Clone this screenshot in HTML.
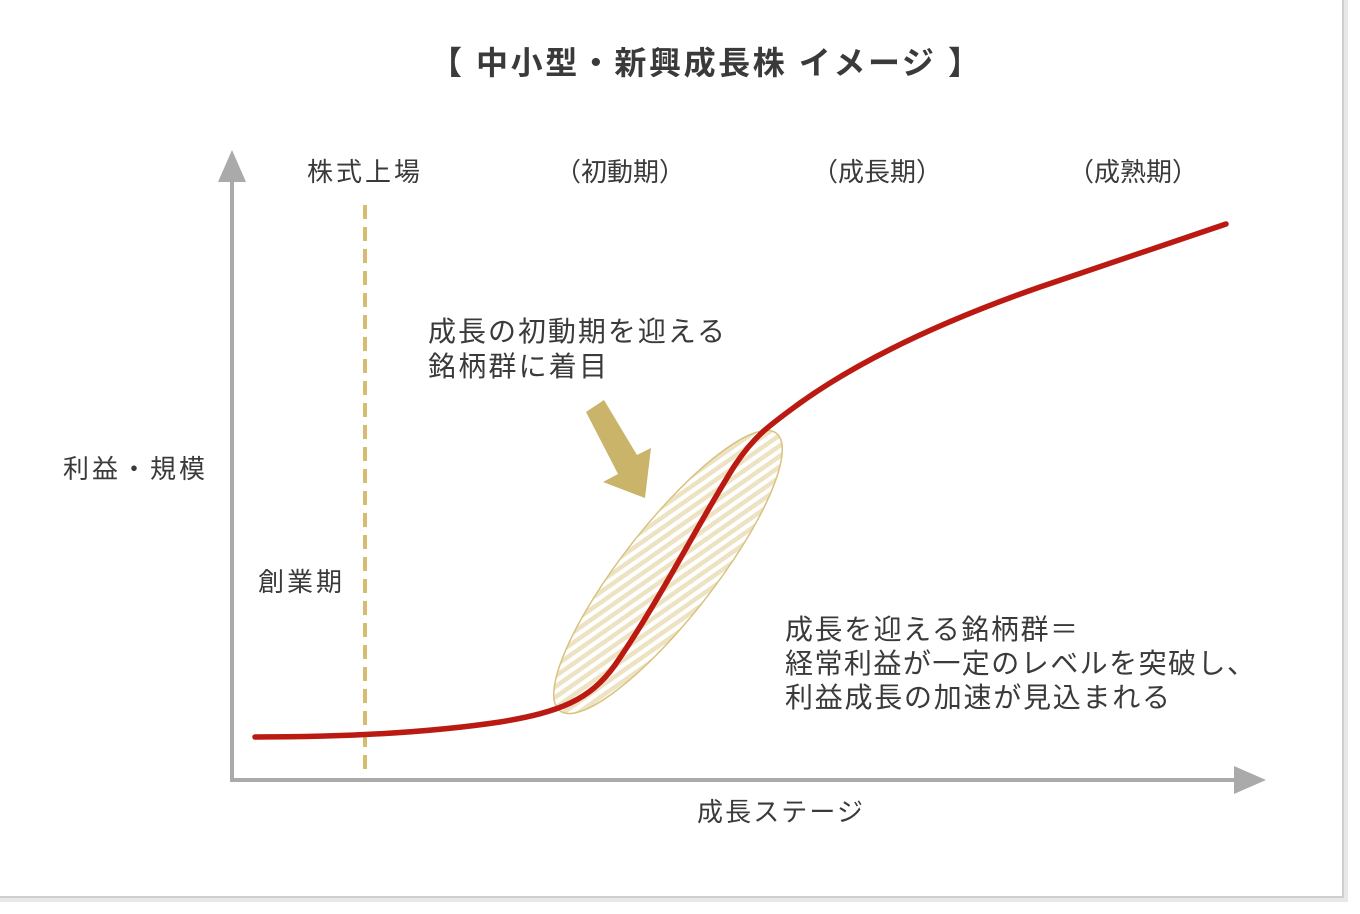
<!DOCTYPE html>
<html><head><meta charset="utf-8"><style>
html,body{margin:0;padding:0;background:#fff;width:1360px;height:914px;overflow:hidden}
svg{display:block}
svg text{font-family:"Liberation Sans","Noto Sans CJK JP",sans-serif;fill:#3a3a3a}
</style></head><body>
<svg width="1360" height="914" viewBox="0 0 1360 914">
<defs>
<clipPath id="ec"><ellipse cx="668" cy="572" rx="176" ry="46" transform="rotate(-52 668 572)"/></clipPath>
</defs>
<rect x="0" y="0" width="1348" height="902" fill="#e8e8e8"/>
<rect x="0" y="0" width="1344" height="898" fill="#cfcfcf"/>
<rect x="0" y="0" width="1342" height="896" fill="#fff"/>
<text x="430" y="74" font-size="32" font-weight="bold" textLength="550" lengthAdjust="spacing">【 中小型・新興成長株 イメージ 】</text>
<text x="307" y="181" font-size="26" textLength="113" lengthAdjust="spacing">株式上場</text>
<text x="620" y="181" font-size="26" text-anchor="middle">（初動期）</text>
<text x="877" y="181" font-size="26" text-anchor="middle">（成長期）</text>
<text x="1133" y="181" font-size="26" text-anchor="middle">（成熟期）</text>
<text x="63" y="478" font-size="26" textLength="142" lengthAdjust="spacing">利益・規模</text>
<text x="258" y="591" font-size="26" textLength="84" lengthAdjust="spacing">創業期</text>
<text x="697" y="821" font-size="26" textLength="166" lengthAdjust="spacing">成長ステージ</text>
<text x="428" y="341" font-size="28" textLength="297" lengthAdjust="spacing">成長の初動期を迎える</text>
<text x="428" y="376" font-size="28" textLength="179" lengthAdjust="spacing">銘柄群に着目</text>
<text x="785" y="639" font-size="28" textLength="293" lengthAdjust="spacing">成長を迎える銘柄群＝</text>
<text x="785" y="673" font-size="28" textLength="470" lengthAdjust="spacing">経常利益が一定のレベルを突破し、</text>
<text x="785" y="707" font-size="28" textLength="385" lengthAdjust="spacing">利益成長の加速が見込まれる</text>
<line x1="232" y1="175" x2="232" y2="782" stroke="#aaa" stroke-width="4"/>
<polygon points="232,150 218,182 246,182" fill="#aaa"/>
<line x1="230" y1="780" x2="1240" y2="780" stroke="#aaa" stroke-width="4"/>
<polygon points="1266,780 1234,766 1234,794" fill="#aaa"/>
<line x1="365" y1="205" x2="365" y2="776" stroke="#d6bc6e" stroke-width="4" stroke-dasharray="14,8"/>
<ellipse cx="668" cy="572" rx="176" ry="46" transform="rotate(-52 668 572)" fill="#fff"/>
<g clip-path="url(#ec)" stroke="#ede3c2" stroke-width="4.5" id="ls"></g>
<ellipse cx="668" cy="572" rx="176" ry="46" transform="rotate(-52 668 572)" fill="none" stroke="#d8c27e" stroke-width="1.5"/>
<polygon points="586,412 604,400 637,455 651,448 645,498 603,482 618,474" fill="#c9b46a"/>
<path d="M255,737 C330,737 420,734 500,722 C560,712 590,700 615,665 C660,600 700,520 735,465 C755,435 770,425 800,403 C870,353 960,315 1040,287 C1110,263 1170,243 1226,224" fill="none" stroke="#bb1a12" stroke-width="5.5" stroke-linecap="round"/>
</svg>
<script>
var g=document.getElementById('ls'),s='';
for(var b=750;b<1400;b+=10.5){s+='<line xmlns="http://www.w3.org/2000/svg" x1="540" y1="'+(b-0.7*540)+'" x2="800" y2="'+(b-0.7*800)+'"/>';}
g.innerHTML=s;
</script>
</body></html>
